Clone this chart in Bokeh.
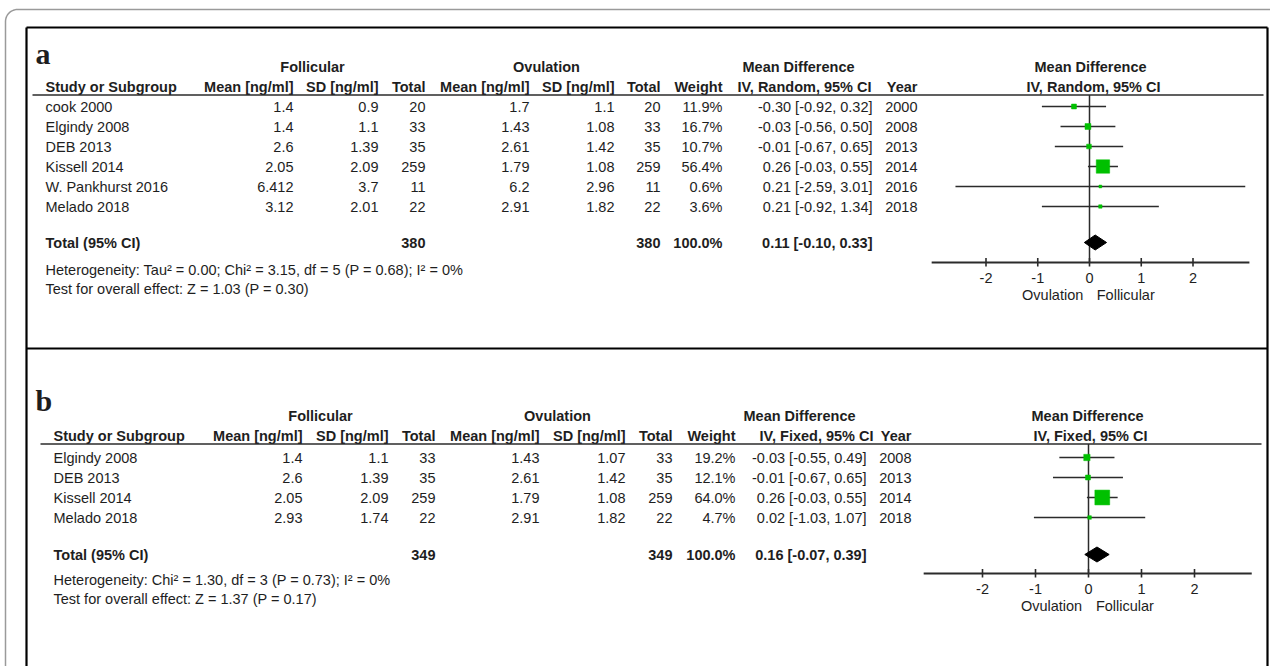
from bokeh.plotting import figure
from bokeh.models import Range1d
from bokeh.core.properties import value
from bokeh.embed import file_html
from bokeh.resources import INLINE
import numpy as np

# ---------------- data: panel a (random effects) ----------------
a_study = ["cook 2000", "Elgindy 2008", "DEB 2013", "Kissell 2014", "W. Pankhurst 2016", "Melado 2018"]
a_fol_mean = [1.4, 1.4, 2.6, 2.05, 6.412, 3.12]
a_fol_sd = [0.9, 1.1, 1.39, 2.09, 3.7, 2.01]
a_fol_n = [20, 33, 35, 259, 11, 22]
a_ovu_mean = [1.7, 1.43, 2.61, 1.79, 6.2, 2.91]
a_ovu_sd = [1.1, 1.08, 1.42, 1.08, 2.96, 1.82]
a_ovu_n = [20, 33, 35, 259, 11, 22]
a_weight = [11.9, 16.7, 10.7, 56.4, 0.6, 3.6]
a_md = [-0.30, -0.03, -0.01, 0.26, 0.21, 0.21]
a_lo = [-0.92, -0.56, -0.67, -0.03, -2.59, -0.92]
a_hi = [0.32, 0.50, 0.65, 0.55, 3.01, 1.34]
a_year = [2000, 2008, 2013, 2014, 2016, 2018]
a_total_n = [380, 380]
a_total_weight = 100.0
a_total_md = [0.11, -0.10, 0.33]
a_het = "Heterogeneity: Tau\u00b2 = 0.00; Chi\u00b2 = 3.15, df = 5 (P = 0.68); I\u00b2 = 0%"
a_test = "Test for overall effect: Z = 1.03 (P = 0.30)"

# ---------------- data: panel b (fixed effects) ----------------
b_study = ["Elgindy 2008", "DEB 2013", "Kissell 2014", "Melado 2018"]
b_fol_mean = [1.4, 2.6, 2.05, 2.93]
b_fol_sd = [1.1, 1.39, 2.09, 1.74]
b_fol_n = [33, 35, 259, 22]
b_ovu_mean = [1.43, 2.61, 1.79, 2.91]
b_ovu_sd = [1.07, 1.42, 1.08, 1.82]
b_ovu_n = [33, 35, 259, 22]
b_weight = [19.2, 12.1, 64.0, 4.7]
b_md = [-0.03, -0.01, 0.26, 0.02]
b_lo = [-0.55, -0.67, -0.03, -1.03]
b_hi = [0.49, 0.65, 0.55, 1.07]
b_year = [2008, 2013, 2014, 2018]
b_total_n = [349, 349]
b_total_weight = 100.0
b_total_md = [0.16, -0.07, 0.39]
b_het = "Heterogeneity: Chi\u00b2 = 1.30, df = 3 (P = 0.73); I\u00b2 = 0%"
b_test = "Test for overall effect: Z = 1.37 (P = 0.17)"

ticks = [-2, -1, 0, 1, 2]

# ---------------- styles ----------------
FONT = "Liberation Sans"
FS = "14.5px"
TXT = "#1e1e1e"
LINE = "#2b2b2b"
GREEN = "#00c000"

W, H = 1270, 666
X0, Y0 = 0, 0

ZERO_A, UNIT_A = 1089.0, 51.75
ZERO_B, UNIT_B = 1088.0, 53.0

p = figure(width=W, height=H,
           x_range=Range1d(X0, X0 + W), y_range=Range1d(Y0 + H, Y0),
           output_backend="svg", toolbar_location=None, min_border=0,
           x_axis_location=None, y_axis_location=None,
           outline_line_color=None, background_fill_color="white",
           border_fill_color="white")
p.extra_x_ranges = {
    "mda": Range1d((X0 - ZERO_A) / UNIT_A, (X0 + W - ZERO_A) / UNIT_A),
    "mdb": Range1d((X0 - ZERO_B) / UNIT_B, (X0 + W - ZERO_B) / UNIT_B),
}
p.xgrid.visible = False
p.ygrid.visible = False


def txt(xs, ys, texts, align="left", bold=False, rng="default", size=FS, font=FONT,
        baseline="middle"):
    p.text(x=xs, y=ys, text=texts, text_align=align, text_baseline=baseline,
           text_font=value(font), text_font_size=size, text_color=TXT,
           text_font_style="bold" if bold else "normal", x_range_name=rng)


def fmt(v):
    return f"{v:g}"


# ---------------- frames ----------------
# outer rounded frame (light grey)
r = 12
ang = np.linspace(np.pi, 1.5 * np.pi, 12)
ox = [5.0] + list(5.0 + r + r * np.cos(ang)) + [X0 + W]
oy = [Y0 + H] + list(9.0 + r + r * np.sin(ang)) + [9.0]
p.line(ox, oy, line_color="#9a9a9a", line_width=1.5)

# inner black boxes
BL, BR, BT, BM = 26, 1267, 27, 348
p.segment(x0=[BL, BR, BL, BL], y0=[BT, BT, BT, BM],
          x1=[BL, BR, BR, BR], y1=[Y0 + H, Y0 + H, BT, BM],
          line_color="black", line_width=2.2)


def panel(letter, ly, cfg):
    (study, fm, fsd, fn, om, osd, on, wt, md, lo, hi, yr, tn, tw, tmd, het, test,
     col, yh1, yh2, yline, line_x0, line_x1, y_rows0, y_tot, y_het, y_test,
     method, rng, axis_y, bounds, fhx) = cfg
    n = len(study)
    ys = [y_rows0 + 20 * i for i in range(n)]

    # panel letter
    txt([35], [ly], [letter], bold=True, size="30px", font="Liberation Serif",
        baseline="alphabetic")

    # header row 1
    txt([col["fol_c"], col["ovu_c"], col["md_c"]], [yh1] * 3,
        ["Follicular", "Ovulation", "Mean Difference"], align="center", bold=True)
    # header row 2
    txt([col["study"]], [yh2], ["Study or Subgroup"], bold=True)
    txt([col["fm"], col["fsd"], col["fn"], col["om"], col["osd"], col["on"],
         col["w"], col["ci_h"], col["yr"]], [yh2] * 9,
        ["Mean [ng/ml]", "SD [ng/ml]", "Total", "Mean [ng/ml]", "SD [ng/ml]",
         "Total", "Weight", f"IV, {method}, 95% CI", "Year"], align="right", bold=True)
    # forest headers
    txt([fhx[0]], [yh1], ["Mean Difference"], align="center", bold=True)
    txt([fhx[1]], [yh2], [f"IV, {method}, 95% CI"], align="center", bold=True)
    # header rule
    p.segment(x0=[line_x0], y0=[yline], x1=[line_x1], y1=[yline],
              line_color=LINE, line_width=1.6)

    # study rows
    txt([col["study"]] * n, ys, study)
    txt([col["fm"]] * n, ys, [fmt(v) for v in fm], align="right")
    txt([col["fsd"]] * n, ys, [fmt(v) for v in fsd], align="right")
    txt([col["fn"]] * n, ys, [str(v) for v in fn], align="right")
    txt([col["om"]] * n, ys, [fmt(v) for v in om], align="right")
    txt([col["osd"]] * n, ys, [fmt(v) for v in osd], align="right")
    txt([col["on"]] * n, ys, [str(v) for v in on], align="right")
    txt([col["w"]] * n, ys, [f"{v:.1f}%" for v in wt], align="right")
    txt([col["ci"]] * n, ys,
        [f"{m:.2f} [{a:.2f}, {b:.2f}]" for m, a, b in zip(md, lo, hi)], align="right")
    txt([col["yr"]] * n, ys, [str(v) for v in yr], align="right")

    # total row
    txt([col["study"]], [y_tot], ["Total (95% CI)"], bold=True)
    txt([col["fn"], col["on"], col["w"], col["ci"]], [y_tot] * 4,
        [str(tn[0]), str(tn[1]), f"{tw:.1f}%",
         f"{tmd[0]:.2f} [{tmd[1]:.2f}, {tmd[2]:.2f}]"], align="right", bold=True)
    txt([col["study"]] * 2, [y_het, y_test], [het, test])

    # ---- forest plot ----
    p.segment(x0=[0], y0=[yline], x1=[0], y1=[axis_y], x_range_name=rng,
              line_color=LINE, line_width=1.5)
    p.segment(x0=lo, y0=ys, x1=hi, y1=ys, x_range_name=rng,
              line_color=LINE, line_width=1.5)
    p.scatter(x=md, y=ys, marker="square", size=[2.7 + 0.19 * v for v in wt],
              fill_color=GREEN, line_color=GREEN, line_width=0.5, x_range_name=rng)
    dh = 7.5
    p.patch(x=[tmd[1], tmd[0], tmd[2], tmd[0]],
            y=[y_tot, y_tot - dh, y_tot, y_tot + dh],
            fill_color="black", line_color="black", x_range_name=rng)
    # axis
    p.segment(x0=[bounds[0]], y0=[axis_y], x1=[bounds[1]], y1=[axis_y],
              x_range_name=rng, line_color=LINE, line_width=2.2)
    p.segment(x0=ticks, y0=[axis_y - 4.5] * len(ticks), x1=ticks,
              y1=[axis_y + 4] * len(ticks), x_range_name=rng,
              line_color=LINE, line_width=1.6)
    txt(ticks, [axis_y + 15] * len(ticks), [fmt(t) for t in ticks],
        align="center", rng=rng)
    txt([-0.12], [axis_y + 32], ["Ovulation"], align="right", rng=rng)
    txt([0.14], [axis_y + 32], ["Follicular"], align="left", rng=rng)


col_a = dict(study=45, fm=293, fsd=378, fn=425, om=529, osd=614, on=660, w=722,
             ci=872, ci_h=871, yr=917, fol_c=312, ovu_c=546, md_c=798)
col_b = dict(study=53, fm=302, fsd=388, fn=435, om=539, osd=625, on=672, w=735,
             ci=866, ci_h=873, yr=911, fol_c=320, ovu_c=557, md_c=799)

panel("a", 53, (a_study, a_fol_mean, a_fol_sd, a_fol_n, a_ovu_mean, a_ovu_sd, a_ovu_n,
                a_weight, a_md, a_lo, a_hi, a_year, a_total_n, a_total_weight, a_total_md,
                a_het, a_test,
                col_a, 66, 86, 94.5, 32, 1263, 106, 242, 269, 288,
                "Random", "mda", 262, (-3.05, 3.09), (1090, 1093)))

panel("b", 400, (b_study, b_fol_mean, b_fol_sd, b_fol_n, b_ovu_mean, b_ovu_sd, b_ovu_n,
                 b_weight, b_md, b_lo, b_hi, b_year, b_total_n, b_total_weight, b_total_md,
                 b_het, b_test,
                 col_b, 415, 435, 443.5, 40, 1261, 457, 554, 579, 598,
                 "Fixed", "mdb", 573, (-3.11, 3.08), (1087, 1090)))

open("out.html", "w").write(file_html(p, INLINE))
